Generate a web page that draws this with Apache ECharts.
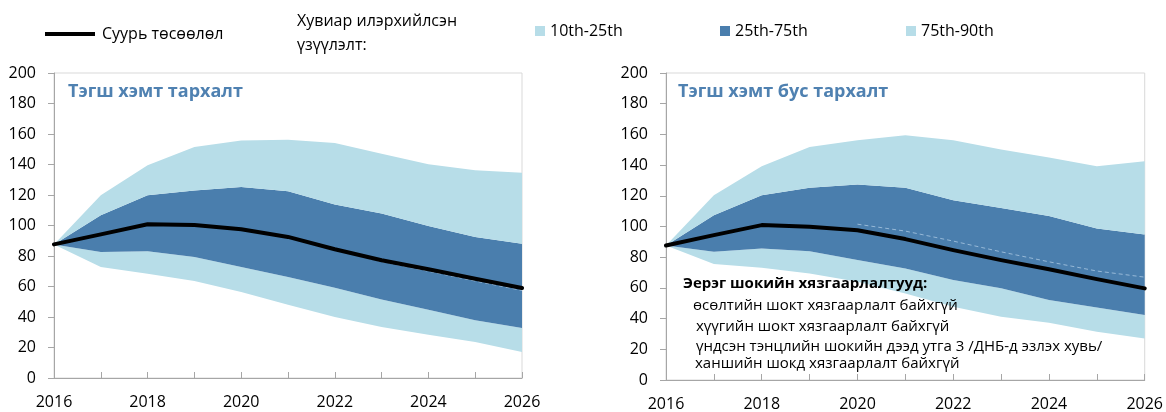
<!DOCTYPE html>
<html>
<head>
<meta charset="utf-8">
<script src="https://cdn.jsdelivr.net/npm/echarts@6/dist/echarts.min.js"></script>
<style>
  html, body { margin: 0; padding: 0; background: #fff; }
  #chart { width: 1166px; height: 412px; }
</style>
</head>
<body>
<div id="chart"></div>
<script>
// Years on the horizontal axis
const years = ['2016','2017','2018','2019','2020','2021','2022','2023','2024','2025','2026'];

// Symmetric fan: percentiles and baseline projection
const symP10  = [87.6, 72.8, 68.4, 63.6, 56.4, 48.1, 40.0, 33.4, 28.4, 23.6, 17.0];
const symP25  = [87.6, 82.6, 83.1, 79.3, 72.8, 66.2, 59.2, 51.4, 44.8, 37.8, 32.8];
const symP75  = [87.6, 106.7, 119.8, 123.0, 125.2, 122.4, 113.7, 107.8, 99.7, 92.5, 88.1];
const symP90  = [87.6, 119.8, 139.5, 151.5, 155.8, 156.3, 154.1, 147.1, 140.1, 136.2, 134.6];
const symBase = [87.6, 94.2, 100.8, 100.3, 97.5, 92.5, 84.4, 77.2, 71.3, 65.1, 59.0];
const symMid  = [null, null, null, null, null, null, 84.2, 76.3, 70.0, 63.6, 57.4];

// Asymmetric fan: percentiles and baseline projection
const asyP10  = [87.6, 75.5, 73.1, 69.4, 64.0, 56.4, 47.7, 41.2, 37.3, 31.5, 27.1];
const asyP25  = [87.6, 83.5, 85.7, 83.9, 78.1, 72.7, 65.1, 59.7, 52.1, 47.3, 42.3];
const asyP75  = [87.6, 107.4, 120.4, 125.2, 127.3, 125.2, 117.1, 112.1, 106.9, 98.7, 94.8];
const asyP90  = [87.6, 120.4, 139.3, 151.8, 156.2, 159.4, 156.2, 150.1, 144.9, 139.3, 142.5];
const asyBase = [87.6, 94.4, 100.9, 99.8, 97.6, 91.8, 84.6, 78.1, 72.2, 65.7, 59.7];
const asyMid  = [null, null, null, null, 101.5, 97.0, 90.5, 83.5, 77.0, 71.0, 67.0];

// Text
const baseName = 'Суурь төсөөлөл';
const bandNames = ['10th-25th', '25th-75th', '75th-90th'];
const legendCaption = 'Хувиар илэрхийлсэн\nүзүүлэлт:';
const panelTitles = ['Тэгш хэмт тархалт', 'Тэгш хэмт бус тархалт'];
const noteHead = 'Эерэг шокийн хязгаарлалтууд:';
const noteLines = [
  'өсөлтийн шокт хязгаарлалт байхгүй',
  'хүүгийн шокт хязгаарлалт байхгүй',
  'үндсэн тэнцлийн шокийн дээд утга 3 /ДНБ-д эзлэх хувь/',
  'ханшийн шокд хязгаарлалт байхгүй'
];

const FONT = '"Open Sans", "Noto Sans", sans-serif';
const LIGHT = '#b7dde8';
const DARK = '#4a7ead';
const TITLE_BLUE = '#4f81b1';

const diff = (a, b) => a.map((v, i) => +(v - b[i]).toFixed(2));

function fanSeries(idx, p10, p25, p75, p90, base, mid) {
  const common = {
    type: 'line', xAxisIndex: idx, yAxisIndex: idx, stack: 'fan' + idx,
    symbol: 'none', lineStyle: { width: 0 }, silent: true
  };
  return [
    Object.assign({}, common, { name: 'floor' + idx, data: p10, areaStyle: { opacity: 0 }, itemStyle: { color: 'rgba(0,0,0,0)' } }),
    Object.assign({}, common, { name: bandNames[0], data: diff(p25, p10), color: LIGHT, areaStyle: { color: LIGHT, opacity: 1 } }),
    Object.assign({}, common, { name: bandNames[1], data: diff(p75, p25), color: DARK, areaStyle: { color: DARK, opacity: 1 } }),
    Object.assign({}, common, { name: bandNames[2], data: diff(p90, p75), color: LIGHT, areaStyle: { color: LIGHT, opacity: 1 } }),
    {
      name: 'mid' + idx, type: 'line', xAxisIndex: idx, yAxisIndex: idx, data: mid,
      symbol: 'none', z: 3, silent: true,
      lineStyle: { color: '#9fbfdc', width: 1, type: [4, 3], opacity: 0.9 }
    },
    {
      name: baseName, type: 'line', xAxisIndex: idx, yAxisIndex: idx, data: base,
      symbol: 'none', z: 4, color: '#000',
      lineStyle: { color: '#000', width: 4, join: 'round', cap: 'round' }
    }
  ];
}

function xAxis(idx) {
  return {
    type: 'category', gridIndex: idx, data: years, boundaryGap: false,
    axisLine: { lineStyle: { color: '#a6a6a6', width: 1 } },
    axisTick: { inside: true, length: 6, interval: 0, lineStyle: { color: '#a6a6a6' } },
    axisLabel: { interval: 1, margin: 16, color: '#000', fontSize: 16, fontFamily: FONT },
    splitLine: { show: false }
  };
}
function yAxis(idx) {
  return {
    type: 'value', gridIndex: idx, min: 0, max: 200, interval: 20,
    axisLine: { show: true, lineStyle: { color: '#a6a6a6', width: 1 } },
    axisTick: { show: true, inside: false, length: 6, lineStyle: { color: '#a6a6a6' } },
    axisLabel: { margin: 18, color: '#000', fontSize: 16, fontFamily: FONT },
    splitLine: { show: false }
  };
}

function bandLegend(name, left) {
  return {
    data: [name], left: left, top: 18, icon: 'rect', itemWidth: 10, itemHeight: 10,
    selectedMode: false,
    textStyle: { color: '#000', fontSize: 16, fontFamily: FONT }
  };
}

const chart = echarts.init(document.getElementById('chart'), null, { renderer: 'canvas' });

const noteGraphics = [{
  type: 'text', left: 683, top: 276, z: 100,
  style: { text: noteHead, fill: '#000', font: 'bold 15px ' + FONT }
}];
const noteTops = [298, 319, 339, 356];
const noteLefts = [693, 696, 696, 695];
noteLines.forEach((t, i) => noteGraphics.push({
  type: 'text', left: noteLefts[i], top: noteTops[i], z: 100,
  style: { text: t, fill: '#000', font: '15px ' + FONT }
}));

chart.setOption({
  animation: false,
  backgroundColor: '#fff',
  grid: [
    { left: 54, right: 644, top: 73, bottom: 34, show: true, borderColor: '#d9d9d9', borderWidth: 1, containLabel: false },
    { left: 666, right: 20, top: 73, bottom: 32, show: true, borderColor: '#d9d9d9', borderWidth: 1, containLabel: false }
  ],
  xAxis: [xAxis(0), xAxis(1)],
  yAxis: [yAxis(0), yAxis(1)],
  legend: [
    {
      data: [baseName], left: 40, top: 21, icon: 'rect', itemWidth: 50, itemHeight: 4,
      selectedMode: false,
      textStyle: { color: '#000', fontSize: 16, fontFamily: FONT, padding: [0, 0, 0, 2] }
    },
    bandLegend(bandNames[0], 530),
    bandLegend(bandNames[1], 715),
    bandLegend(bandNames[2], 901)
  ],
  graphic: [
    {
      type: 'text', left: 297, top: 9, z: 100,
      style: { text: legendCaption, fill: '#000', font: '16px ' + FONT, lineHeight: 24 }
    },
    {
      type: 'text', left: 68, top: 83, z: 100,
      style: { text: panelTitles[0], fill: TITLE_BLUE, font: 'bold 18px ' + FONT }
    },
    {
      type: 'text', left: 678, top: 83, z: 100,
      style: { text: panelTitles[1], fill: TITLE_BLUE, font: 'bold 18px ' + FONT }
    }
  ].concat(noteGraphics),
  series: [].concat(
    fanSeries(0, symP10, symP25, symP75, symP90, symBase, symMid),
    fanSeries(1, asyP10, asyP25, asyP75, asyP90, asyBase, asyMid)
  )
});
</script>
</body>
</html>
